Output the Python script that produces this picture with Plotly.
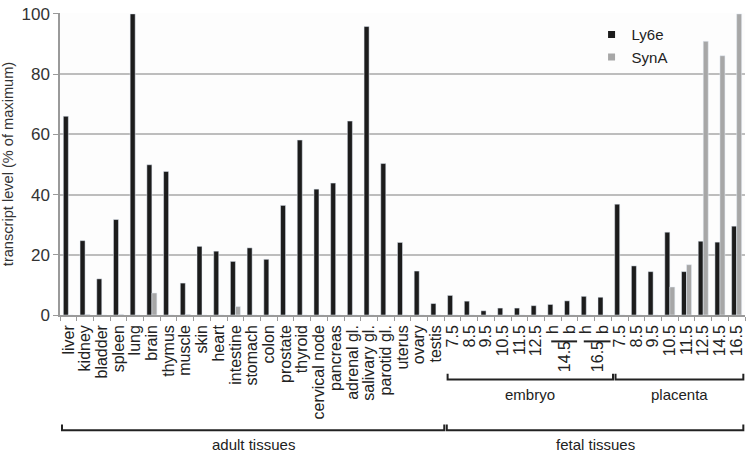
import plotly.graph_objects as go

# ---- data ----
tick_labels = ["liver", "kidney", "bladder", "spleen", "lung", "brain", "thymus", "muscle",
               "skin", "heart", "intestine", "stomach", "colon", "prostate", "thyroid",
               "cervical node", "pancreas", "adrenal gl.", "salivary gl.", "parotid gl.",
               "uterus", "ovary", "testis",
               "7.5", "8.5", "9.5", "10.5", "11.5", "12.5", "h", "b", "h", "b",
               "7.5", "8.5", "9.5", "10.5", "11.5", "12.5", "14.5", "16.5"]
ly6e = [66, 24.7, 12.0, 31.7, 100, 49.9, 47.7, 10.6,
        22.8, 21.2, 17.8, 22.3, 18.5, 36.4, 58.1,
        41.8, 43.8, 64.4, 95.8, 50.3,
        24.1, 14.6, 3.8,
        6.5, 4.6, 1.4, 2.3, 2.3, 3.1, 3.5, 4.7, 6.2, 5.9,
        36.8, 16.3, 14.4, 27.5, 14.4, 24.5, 24.2, 29.5]
syna = [0, 0.2, 0, 0.2, 0, 7.3, 0, 0.2,
        0, 0, 2.8, 0, 0, 0, 0,
        0, 0, 0, 0, 0,
        0, 0, 0,
        0, 0, 0, 0, 0, 0, 0, 0, 0, 0,
        0, 0, 0, 9.3, 16.7, 90.9, 86.1, 100]
y_ticks = [0, 20, 40, 60, 80, 100]

# group spans (index ranges) for brackets
adult_span = (-0.38, 22.5)
fetal_span = (22.65, 40.4)
embryo_span = (22.7, 32.6)
placenta_span = (32.75, 40.4)
sub_groups = [("14.5", 28.9, 30.45), ("16.5", 30.85, 32.45)]

idx = list(range(len(tick_labels)))
FONT = "Liberation Sans, Arial, sans-serif"
BLACK = "#1c1c1c"
GRAY = "#a7a7a7"
LINE = "#222222"

fig = go.Figure()
fig.add_trace(go.Bar(x=idx, y=ly6e, name="Ly6e", marker_color=BLACK, showlegend=False))
fig.add_trace(go.Bar(x=idx, y=syna, name="SynA", marker_color=GRAY, showlegend=False))
fig.add_trace(go.Scatter(x=[None], y=[None], mode="markers", name="Ly6e",
                         marker=dict(symbol="square", size=7, color=BLACK)))
fig.add_trace(go.Scatter(x=[None], y=[None], mode="markers", name="SynA",
                         marker=dict(symbol="square", size=7, color=GRAY)))

PY0, PH = 315, 309  # pixel helpers for paper coords below the plot


def py(p):
    return (PY0 - p) / PH


shapes = []
annotations = []


def bracket(x0, x1, ytop, ybot):
    shapes.append(dict(type="path", xref="x", yref="paper",
                       path=f"M {x0},{py(ytop)} L {x0},{py(ybot)} L {x1},{py(ybot)} L {x1},{py(ytop)}",
                       line=dict(color=LINE, width=2)))


bracket(*embryo_span, 375, 381)
bracket(*placenta_span, 375, 381)
bracket(*adult_span, 427, 433)
bracket(*fetal_span, 427, 433)

for txt, span, ypix in [("embryo", embryo_span, 396), ("placenta", placenta_span, 396),
                        ("adult tissues", adult_span, 448), ("fetal tissues", fetal_span, 448)]:
    annotations.append(dict(x=(span[0] + span[1]) / 2, y=py(ypix), xref="x", yref="paper",
                            xanchor="center", yanchor="middle",
                            text=txt, showarrow=False, font=dict(size=15, color=LINE, family=FONT)))

for txt, x0, x1 in sub_groups:
    shapes.append(dict(type="line", xref="x", yref="paper", x0=x0, x1=x1,
                       y0=py(342), y1=py(342), line=dict(color=LINE, width=2)))
    annotations.append(dict(x=(x0 + x1) / 2, y=py(358), xref="x", yref="paper", text=txt,
                            xanchor="center", yanchor="middle",
                            textangle=-90, showarrow=False,
                            font=dict(size=16, color=LINE, family=FONT)))

fig.update_layout(
    width=750, height=457,
    margin=dict(l=56, r=5, t=6, b=142),
    plot_bgcolor="#fdfdfd", paper_bgcolor="white",
    barmode="group", bargap=0.4, bargroupgap=0,
    font=dict(family=FONT, color=LINE),
    shapes=shapes, annotations=annotations,
    legend=dict(x=0.776, y=0.983, xanchor="left", yanchor="top",
                bgcolor="rgba(0,0,0,0)", font=dict(size=15, color=LINE, family=FONT),
                tracegroupgap=0),
    xaxis=dict(range=[-0.5, 40.5], tickmode="array", tickvals=idx, ticktext=tick_labels,
               tickangle=-90, ticks="", showgrid=False, zeroline=False,
               showline=True, linecolor="#9a9a9a", linewidth=1.5,
               tickfont=dict(size=16, color=LINE, family=FONT),
               ticklabelstandoff=2,
               minor=dict(tick0=0.5, dtick=1, ticks="outside", ticklen=4,
                          tickcolor="#9a9a9a", tickwidth=1, showgrid=False)),
    yaxis=dict(range=[0, 100.3], tickmode="array", tickvals=y_ticks,
               ticks="outside", ticklen=5, tickcolor="#9a9a9a",
               ticklabeloverflow="allow",
               showgrid=True, gridcolor="#bdbdbd", gridwidth=1.5, zeroline=False,
               showline=True, linecolor="#9a9a9a", linewidth=1.5,
               tickfont=dict(size=17, color="#333333", family=FONT),
               title=dict(text="transcript level (% of maximum)", standoff=6,
                          font=dict(size=14.6, color="#333333", family=FONT))),
)

fig.write_html("out.html", config={"displayModeBar": False},
               post_script="document.body.style.margin='0';")
